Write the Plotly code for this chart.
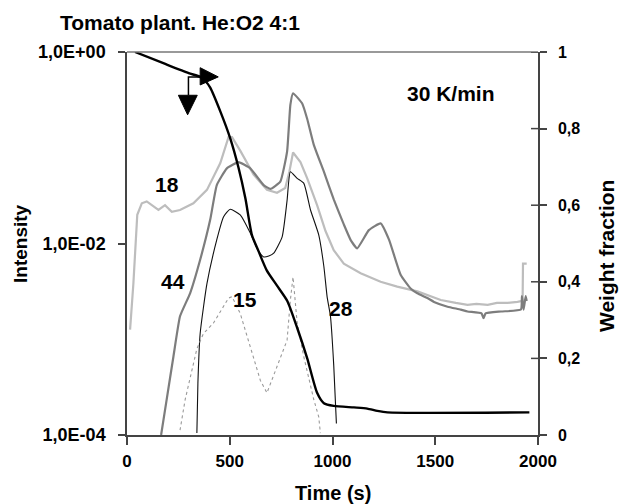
import numpy as np
import plotly.graph_objects as go

# ---- data ----
# m/z 18 (light gray)
t18 = [15, 31, 50, 72, 96, 128, 153, 185, 218, 258, 323, 389, 454, 494, 511, 551, 616, 681, 730, 770, 790, 808, 844, 877, 925, 966, 1006, 1055, 1137, 1234, 1315, 1413, 1527, 1600, 1657, 1700, 1755, 1800, 1852, 1900, 1925, 1927, 1945]
lg18 = [-2.90, -2.42, -1.70, -1.58, -1.56, -1.615, -1.65, -1.60, -1.67, -1.65, -1.58, -1.44, -1.16, -0.89, -0.89, -1.03, -1.28, -1.44, -1.47, -1.42, -1.25, -1.05, -1.15, -1.32, -1.60, -1.87, -2.07, -2.21, -2.31, -2.40, -2.45, -2.50, -2.59, -2.62, -2.64, -2.63, -2.64, -2.62, -2.62, -2.61, -2.60, -2.21, -2.21]

# m/z 44 (mid gray)
t44 = [166, 193, 226, 258, 307, 356, 405, 437, 486, 543, 600, 665, 698, 746, 779, 795, 808, 852, 877, 909, 958, 1006, 1055, 1090, 1120, 1177, 1234, 1275, 1332, 1380, 1413, 1462, 1494, 1560, 1624, 1657, 1725, 1735, 1745, 1820, 1917, 1922, 1930, 1940, 1945]
lg44 = [-4.0, -3.63, -3.18, -2.76, -2.52, -2.17, -1.75, -1.39, -1.215, -1.15, -1.215, -1.39, -1.43, -1.354, -1.04, -0.553, -0.431, -0.536, -0.70, -0.97, -1.25, -1.54, -1.80, -1.97, -2.05, -1.86, -1.79, -1.96, -2.33, -2.47, -2.52, -2.57, -2.61, -2.66, -2.69, -2.71, -2.73, -2.78, -2.73, -2.71, -2.69, -2.55, -2.69, -2.55, -2.60]

# m/z 28 (black thin)
t28 = [340, 345, 356, 389, 437, 470, 502, 551, 600, 640, 665, 690, 714, 755, 779, 795, 828, 860, 893, 933, 958, 974, 990, 1006, 1019]
lg28 = [-3.98, -3.46, -2.94, -2.42, -1.96, -1.72, -1.643, -1.70, -1.89, -2.08, -2.14, -2.13, -2.10, -1.93, -1.55, -1.25, -1.32, -1.37, -1.65, -1.91, -2.24, -2.56, -2.76, -3.27, -3.88]

# m/z 15 (dotted)
t15 = [258, 283, 340, 372, 421, 470, 494, 511, 551, 600, 649, 681, 730, 779, 795, 808, 828, 860, 909, 933, 941]
lg15 = [-3.95, -3.63, -3.10, -2.94, -2.83, -2.66, -2.57, -2.555, -2.73, -3.08, -3.43, -3.56, -3.29, -3.01, -2.59, -2.35, -2.83, -3.18, -3.63, -3.81, -3.98]

# weight fraction (black thick, right axis)
tw = [39, 180, 300, 356, 380, 405, 454, 502, 543, 576, 608, 640, 680, 730, 780, 828, 877, 925, 958, 1006, 1104, 1169, 1218, 1267, 1958]
wf = [1.0, 0.97, 0.945, 0.935, 0.925, 0.907, 0.845, 0.775, 0.697, 0.618, 0.522, 0.48, 0.43, 0.39, 0.35, 0.28, 0.20, 0.11, 0.083, 0.076, 0.072, 0.069, 0.063, 0.059, 0.059]

x_ticks = [0, 500, 1000, 1500, 2000]
y_tickvals = [1e-4, 1e-2, 1e0]
y_ticktext = ["1,0E-04", "1,0E-02", "1,0E+00"]
y2_tickvals = [0, 0.2, 0.4, 0.6, 0.8, 1]
y2_ticktext = ["0", "0,2", "0,4", "0,6", "0,8", "1"]

FONT = "Liberation Sans, Arial, sans-serif"

fig = go.Figure()
fig.add_trace(go.Scatter(x=t18, y=np.power(10.0, lg18), mode="lines",
                         line=dict(color="#bdbdbd", width=2.2), showlegend=False))
fig.add_trace(go.Scatter(x=t44, y=np.power(10.0, lg44), mode="lines",
                         line=dict(color="#7d7d7d", width=2.2, shape="spline", smoothing=0.4), showlegend=False))
fig.add_trace(go.Scatter(x=t28, y=np.power(10.0, lg28), mode="lines",
                         line=dict(color="#111111", width=1.1, shape="spline", smoothing=0.5), showlegend=False))
fig.add_trace(go.Scatter(x=t15, y=np.power(10.0, lg15), mode="lines",
                         line=dict(color="#9a9a9a", width=1.1, dash="dot"), showlegend=False))
fig.add_trace(go.Scatter(x=tw, y=wf, mode="lines", yaxis="y2",
                         line=dict(color="#000000", width=2.4, shape="spline", smoothing=0.6), showlegend=False))

fig.update_layout(
    width=619, height=504,
    margin=dict(l=127, r=81, t=52, b=69),
    paper_bgcolor="white", plot_bgcolor="white",
    font=dict(family=FONT, color="black", size=16, weight="bold"),
    xaxis=dict(range=[0, 2000], tickvals=x_ticks, ticks="outside", ticklen=8, tickwidth=1.5,
               tickcolor="#444", showline=True, linecolor="#444", linewidth=1.5,
               mirror=False, showgrid=False, zeroline=False, ticklabelstandoff=2,
               tickfont=dict(size=17, family=FONT, weight="bold")),
    yaxis=dict(type="log", range=[-4, 0], tickvals=y_tickvals, ticktext=y_ticktext,
               ticks="outside", ticklen=7, tickwidth=1.5, tickcolor="#444",
               showline=True, linecolor="#444", linewidth=1.5, showgrid=False,
               zeroline=False, ticklabelstandoff=9,
               tickfont=dict(size=18, family=FONT, weight="bold")),
    yaxis2=dict(overlaying="y", side="right", range=[0, 1], tickvals=y2_tickvals,
                ticktext=y2_ticktext, ticks="outside", ticklen=7, tickwidth=1.5,
                tickcolor="#444", showline=True, linecolor="#444", linewidth=1.5,
                showgrid=False, zeroline=False, ticklabelstandoff=8,
                tickfont=dict(size=16, family=FONT, weight="bold")),
)

# top frame line
fig.add_shape(type="line", xref="paper", yref="paper", x0=0, x1=1, y0=1, y1=1,
              line=dict(color="#777", width=1.5))
# inner half of the crossing ticks on the right axis
for v in y2_tickvals[1:]:
    fig.add_shape(type="line", xref="paper", yref="y2", x0=1 - 7 / 411, x1=1, y0=v, y1=v,
                  line=dict(color="#444", width=1.5))

# arrows (on weight-fraction axis)
fig.add_shape(type="path", xref="x", yref="y2",
              path="M 356,0.959 L 444,0.935 L 356,0.914 Z",
              fillcolor="black", line=dict(color="black", width=1))
fig.add_shape(type="path", xref="x", yref="y2",
              path="M 356,0.935 L 299,0.935 L 299,0.888",
              line=dict(color="black", width=1.5))
fig.add_shape(type="path", xref="x", yref="y2",
              path="M 250,0.887 L 342,0.887 L 295,0.836 Z",
              fillcolor="black", line=dict(color="black", width=1))

# curve labels
labels = [("18", 194, -1.38), ("44", 226, -2.40), ("15", 576, -2.59), ("28", 1042, -2.68),
          ("30 K/min", 1576, -0.431)]
for txt, lx, ly in labels:
    fig.add_annotation(x=lx, y=ly, xref="x", yref="y", text=txt, showarrow=False,
                       font=dict(size=21, family=FONT, weight="bold", color="black"))

fig.add_annotation(text="Tomato plant. He:O2 4:1", xref="paper", yref="paper",
                   x=(58 - 127) / 411, y=(435 - 22) / 383, xanchor="left", yanchor="middle",
                   showarrow=False, font=dict(size=21, family=FONT, weight="bold"))
fig.add_annotation(text="Intensity", xref="paper", yref="paper", x=(20 - 127) / 411,
                   y=(435 - 244) / 383, xanchor="center", yanchor="middle", textangle=-90,
                   showarrow=False, font=dict(size=19, family=FONT, weight="bold"))
fig.add_annotation(text="Weight fraction", xref="paper", yref="paper", x=(606 - 127) / 411,
                   y=(435 - 256) / 383, xanchor="center", yanchor="middle", textangle=-90,
                   showarrow=False, font=dict(size=21, family=FONT, weight="bold"))
fig.add_annotation(text="Time (s)", xref="paper", yref="paper", x=(333 - 127) / 411,
                   y=(435 - 493) / 383, xanchor="center", yanchor="middle", showarrow=False,
                   font=dict(size=20, family=FONT, weight="bold"))

fig.write_html("out.html")
